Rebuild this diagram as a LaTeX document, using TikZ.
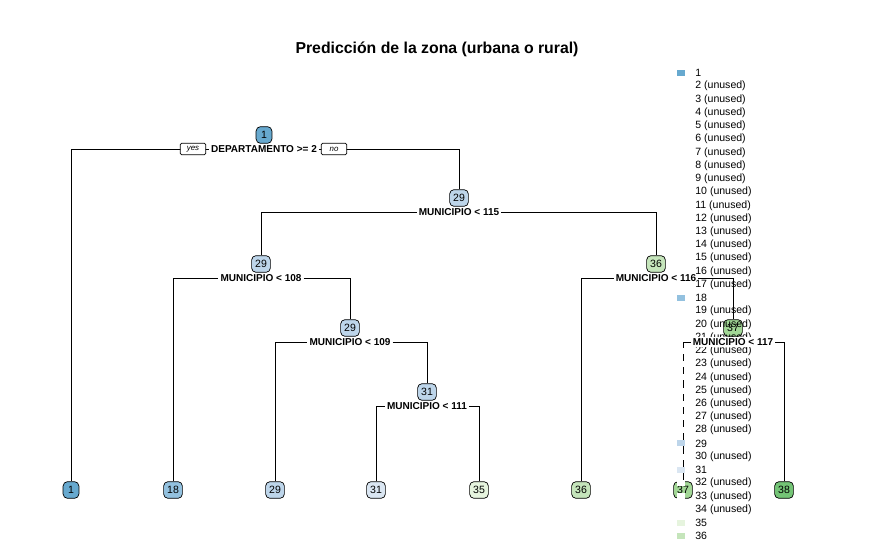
\documentclass[tikz,border=0pt]{standalone}
\usepackage{fontspec}
\setmainfont{Liberation Sans}
\usetikzlibrary{positioning,backgrounds}

\definecolor{c1}{HTML}{67A9CF}
\definecolor{c18}{HTML}{93C1DF}
\definecolor{c29}{HTML}{BDD5EA}
\definecolor{c31}{HTML}{DAE6F2}
\definecolor{c35}{HTML}{E6F4DE}
\definecolor{c36}{HTML}{C5E5BB}
\definecolor{c37}{HTML}{A2D796}
\definecolor{c38}{HTML}{74C476}

\begin{document}
\begin{tikzpicture}[x=0.02cm, y=-0.02cm,
  box/.style={draw, fill=#1, rounded corners=2.5pt, minimum height=9.5pt,
              minimum width=9pt, inner xsep=2pt, inner ysep=0pt,
              font=\fontsize{6}{7}\selectfont},
  split/.style={fill=white, inner xsep=1pt, inner ysep=0.8pt,
                font=\fontsize{5.7}{6}\selectfont\bfseries},
  tag/.style={draw, fill=white, rounded corners=0.8pt, inner sep=0pt,
              minimum width=14.5pt, minimum height=6.6pt,
              font=\fontsize{4.5}{5}\selectfont\itshape},
  key/.style={fill=#1, minimum width=4.5pt, minimum height=3.4pt, inner sep=0pt},
  entry/.style={anchor=west, inner sep=0pt, font=\fontsize{6}{7}\selectfont}]
  \useasboundingbox (0,0) rectangle (875,540);

  \node[font=\fontsize{9}{11}\selectfont\bfseries] (title) at (437,49)
    {Predicción de la zona (urbana o rural)};

  % split nodes
  \node[box=c1]  (n1)  at (264,135) {1};
  \node[box=c29] (n2)  at (459,198) {29};
  \node[box=c29] (n4)  at (261,264) {29};
  \node[box=c36] (n3)  at (656,264) {36};
  \node[box=c29] (n9)  at (350,328) {29};
  \node[box=c37] (n7)  at (733,328) {37};
  \node[box=c29] (n19) at (427,392) {31};

  \node[split] (s1)  at (264,149) {DEPARTAMENTO >= 2};
  \node[split] (s2)  at (459,212) {MUNICIPIO < 115};
  \node[split] (s4)  at (261,278) {MUNICIPIO < 108};
  \node[split] (s3)  at (656,278) {MUNICIPIO < 116};
  \node[split] (s9)  at (350,342) {MUNICIPIO < 109};
  \node[split] (s19) at (427,406) {MUNICIPIO < 111};

  % leaves
  \node[box=c1]  (l1)  at (71,490)  {1};
  \node[box=c18] (l8)  at (173,490) {18};
  \node[box=c29] (l18) at (275,490) {29};
  \node[box=c31] (l38) at (376,490) {31};
  \node[box=c35] (l39) at (479,490) {35};
  \node[box=c36] (l6)  at (581,490) {36};
  \node[box=c37] (l14) at (683,490) {37};
  \node[box=c38] (l15) at (784,490) {38};

  \node[tag] (yes) at (193,149) {yes};
  \node[tag] (no)  at (334,149) {no};

  % legend
  \foreach \k/\c in {1/c1,18/c18,29/c29,31/c31,35/c35,36/c36}{
    \node[key=\c] (key\k) at (681,{73+(\k-1)*13.23}) {};
    \node[entry] (leg\k) at (695,{73+(\k-1)*13.23}) {\k};
  }
  \foreach \k in {2,...,17,19,20,...,28,30,32,33,34}{
    \node[key=white] (key\k) at (681,{73+(\k-1)*13.23}) {};
    \node[entry] (leg\k) at (695,{73+(\k-1)*13.23}) {\k\ (unused)};
  }

  % last split sits over the legend
  \node[split] (s7) at (733,342) {MUNICIPIO < 117};

  % branches
  \begin{scope}[on background layer]
    \draw (l1)  |- (s1)  -| (n2);
    \draw (n4)  |- (s2)  -| (n3);
    \draw (l8)  |- (s4)  -| (n9);
    \draw (l18) |- (s9)  -| (n19);
    \draw (l38) |- (s19) -| (l39);
    \draw (l6)  |- (s3)  -| (n7);
    \draw (l14) |- (s7)  -| (l15);
  \end{scope}
\end{tikzpicture}
\end{document}
